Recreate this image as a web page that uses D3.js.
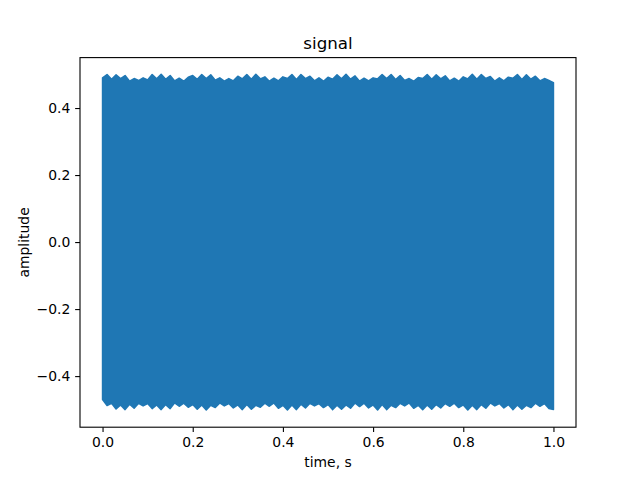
<!DOCTYPE html>
<html><head><meta charset="utf-8">
<script src="https://cdn.jsdelivr.net/npm/d3@7"></script>
<style>body{margin:0;background:#fff}svg{display:block}text{font-family:"DejaVu Sans",sans-serif;fill:#000}</style>
</head><body><svg id="c" width="640" height="480"></svg>
<script>
const times = d3.range(0, 101).map(i => i / 100);
const upperEnv = [0.490,0.500,0.486,0.499,0.488,0.497,0.480,0.488,0.482,0.490,
0.484,0.500,0.487,0.501,0.486,0.497,0.481,0.489,0.480,0.492,
0.497,0.486,0.500,0.488,0.499,0.483,0.490,0.480,0.488,0.481,
0.495,0.487,0.500,0.486,0.501,0.487,0.493,0.480,0.489,0.481,
0.493,0.488,0.500,0.485,0.500,0.488,0.495,0.481,0.490,0.480,
0.492,0.486,0.499,0.487,0.501,0.486,0.496,0.480,0.489,0.481,
0.490,0.487,0.500,0.488,0.500,0.485,0.497,0.482,0.488,0.480,
0.491,0.488,0.500,0.486,0.499,0.487,0.496,0.481,0.489,0.480,
0.493,0.487,0.501,0.486,0.500,0.488,0.494,0.480,0.490,0.481,
0.492,0.489,0.500,0.485,0.499,0.486,0.495,0.481,0.488,0.482,
0.476];
const lowerEnv = [-0.470,-0.488,-0.481,-0.498,-0.486,-0.500,-0.484,-0.496,-0.481,-0.489,
-0.482,-0.497,-0.486,-0.500,-0.485,-0.497,-0.480,-0.490,-0.481,-0.493,
-0.485,-0.499,-0.486,-0.501,-0.487,-0.494,-0.480,-0.489,-0.482,-0.495,
-0.486,-0.500,-0.485,-0.499,-0.487,-0.493,-0.481,-0.490,-0.480,-0.496,
-0.487,-0.501,-0.486,-0.500,-0.484,-0.495,-0.481,-0.489,-0.482,-0.494,
-0.485,-0.500,-0.487,-0.499,-0.486,-0.496,-0.480,-0.491,-0.481,-0.495,
-0.486,-0.501,-0.485,-0.500,-0.487,-0.494,-0.481,-0.489,-0.480,-0.496,
-0.487,-0.500,-0.486,-0.499,-0.485,-0.495,-0.482,-0.490,-0.481,-0.494,
-0.486,-0.501,-0.487,-0.500,-0.485,-0.496,-0.480,-0.489,-0.482,-0.495,
-0.485,-0.500,-0.486,-0.499,-0.487,-0.494,-0.481,-0.490,-0.482,-0.497,
-0.500];
const xTicks = [0.0, 0.2, 0.4, 0.6, 0.8, 1.0];
const yTicks = [-0.4, -0.2, 0.0, 0.2, 0.4];
const titleText = "signal", xLabel = "time, s", yLabel = "amplitude";

const data = times.map((t, i) => ({t, hi: upperEnv[i], lo: lowerEnv[i]}));
const W = 640, H = 480;
const m = {l: 80, r: 64, t: 57.6, b: 52.8};
const iw = W - m.l - m.r, ih = H - m.t - m.b;
const svg = d3.select("#c");
const g = svg.append("g").attr("transform", `translate(${m.l},${m.t})`);

const x = d3.scaleLinear().domain([-0.05, 1.05]).range([0, iw]);
const y = d3.scaleLinear().domain([-0.5525, 0.5505]).range([ih, 0]);

const area = d3.area().x(d => x(d.t)).y0(d => y(d.lo)).y1(d => y(d.hi));
g.append("path").datum(data).attr("d", area)
  .attr("fill", "#1f77b4").attr("stroke", "#1f77b4").attr("stroke-width", 1.5)
  .attr("stroke-linejoin", "round");

const fmt = d3.format(".1f");
const xa = g.append("g").attr("transform", `translate(0,${ih})`)
  .call(d3.axisBottom(x).tickValues(xTicks).tickFormat(fmt).tickSize(4.86).tickPadding(4.86));
const ya = g.append("g")
  .call(d3.axisLeft(y).tickValues(yTicks).tickFormat(fmt).tickSize(4.86).tickPadding(4.86));
[xa, ya].forEach(a => {
  a.select(".domain").remove();
  a.selectAll("line").attr("stroke", "#000").attr("stroke-width", 1.1);
  a.selectAll("text").attr("font-size", "13.9px").attr("font-family", "DejaVu Sans").attr("fill", "#000");
});
g.append("rect").attr("width", iw).attr("height", ih).attr("fill", "none")
  .attr("stroke", "#000").attr("stroke-width", 1.1);

svg.append("text").attr("x", m.l + iw / 2).attr("y", 49).attr("text-anchor", "middle")
  .attr("font-size", "16.7px").text(titleText);
svg.append("text").attr("x", m.l + iw / 2).attr("y", 467).attr("text-anchor", "middle")
  .attr("font-size", "13.9px").text(xLabel);
svg.append("text").attr("transform", `translate(29,${m.t + ih / 2}) rotate(-90)`)
  .attr("text-anchor", "middle").attr("font-size", "13.9px").text(yLabel);
</script></body></html>
